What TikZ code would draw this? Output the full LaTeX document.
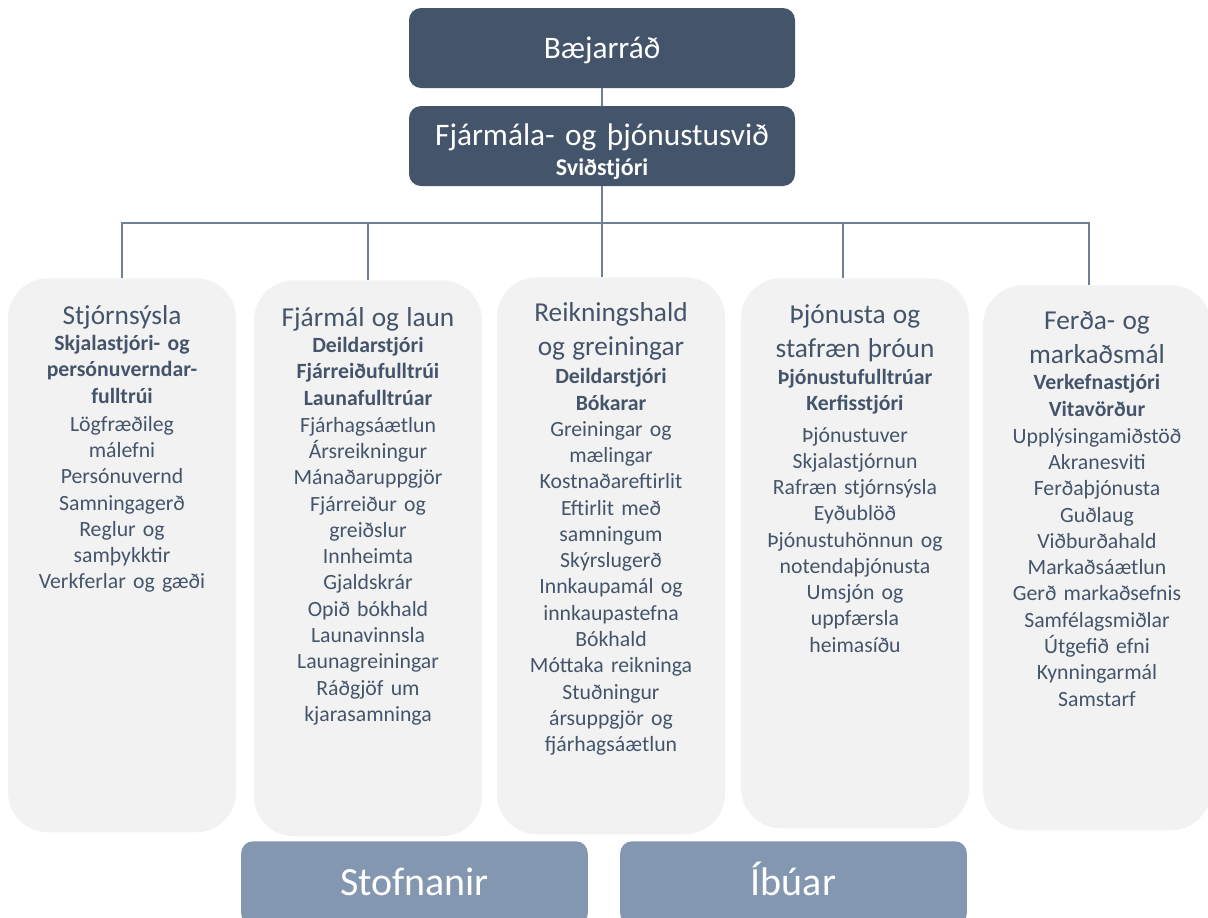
\documentclass[tikz,border=0pt]{standalone}
\usepackage{fontspec}
\setmainfont{Carlito}
\usepackage{tikz}
\usetikzlibrary{calc,positioning}
\definecolor{boxdark}{HTML}{44546A}
\definecolor{boxgrey}{HTML}{F2F2F2}
\definecolor{boxblue}{HTML}{8497B0}
\definecolor{linegrey}{HTML}{6F7F96}
\newcommand{\utitle}[1]{{\fontsize{20.5}{24}\selectfont #1}}
\newcommand{\urole}[1]{{\bfseries #1}}
\newcommand{\ustrut}{\rule{0pt}{20pt}}
\tikzset{
    topbox/.style={fill=boxdark, rounded corners=9pt, minimum width=289.5pt, minimum height=60pt,
        inner sep=0pt, text=white, align=center, text width=280pt},
    unitbox/.style={fill=boxgrey, rounded corners=30pt, minimum width=171pt, anchor=north, inner sep=0pt},
    unittext/.style={anchor=north, inner sep=0pt, text width=171pt, align=center, text=boxdark,
        font=\fontsize{16.3}{19.7}\selectfont},
    outbox/.style={fill=boxblue, rounded corners=9pt, minimum width=260pt, minimum height=63pt,
        anchor=north, inner sep=0pt, text=white, text height=22pt, text depth=4pt,
        font=\fontsize{30}{36}\selectfont},
    conn/.style={draw=linegrey, line width=0.8pt},
}
\begin{document}
\begin{tikzpicture}[x=0.75pt,y=-0.75pt]
    \useasboundingbox (0,0) rectangle (1208,918);
    % top
    \node[topbox, font=\fontsize{23.5}{28}\selectfont, text height=16pt, text depth=0pt] (bae) at (602,48) {Bæjarráð};
    \node[topbox, font=\fontsize{23.5}{22.5}\selectfont, text height=17pt, text depth=18.5pt] (fin) at (602,146)
        {Fjármála- og þjónustusvið\\{\bfseries\fontsize{18}{22.5}\selectfont Sviðstjóri}};
    % units
    \node[unitbox, minimum height=415.5pt] (stj) at (122,278) {};
    \node[unitbox, minimum height=417pt] (fjl) at (368,280) {};
    \node[unitbox, minimum height=417.75pt] (rek) at (611,277) {};
    \node[unitbox, minimum height=412.5pt] (thj) at (855,278) {};
    \node[unitbox, minimum height=408.75pt] (ferd) at (1097,285) {};
    \node[unittext] (stjt) at ([yshift=-14.5pt]stj.north) {\ustrut\utitle{Stjórnsýsla}\\
        \urole{Skjalastjóri- og}\\\urole{persónuverndar-}\\\urole{fulltrúi}\\[1.5pt]
        Lögfræðileg\\málefni\\Persónuvernd\\Samningagerð\\Reglur og\\samþykktir\\Verkferlar og gæði};
    \node[unittext] (fjlt) at ([yshift=-14.5pt]fjl.north) {\ustrut\utitle{Fjármál og laun}\\
        \urole{Deildarstjóri}\\\urole{Fjárreiðufulltrúi}\\\urole{Launafulltrúar}\\[0.75pt]
        Fjárhagsáætlun\\Ársreikningur\\Mánaðaruppgjör\\Fjárreiður og\\greiðslur\\Innheimta\\
        Gjaldskrár\\Opið bókhald\\Launavinnsla\\Launagreiningar\\Ráðgjöf um\\kjarasamninga};
    \node[unittext] (rekt) at ([yshift=-13pt]rek.north) {\ustrut\utitle{Reikningshald}\\[6pt]
        \utitle{og greiningar}\\[1.5pt]
        \urole{Deildarstjóri}\\\urole{Bókarar}\\
        Greiningar og\\mælingar\\Kostnaðareftirlit\\Eftirlit með\\samningum\\Skýrslugerð\\
        Innkaupamál og\\innkaupastefna\\Bókhald\\Móttaka reikninga\\Stuðningur\\
        ársuppgjör og\\fjárhagsáætlun};
    \node[unittext] (thjt) at ([yshift=-14pt]thj.north) {\ustrut\utitle{Þjónusta og}\\[6pt]
        \utitle{stafræn þróun}\\
        \urole{Þjónustufulltrúar}\\\urole{Kerfisstjóri}\\[4pt]
        Þjónustuver\\Skjalastjórnun\\Rafræn stjórnsýsla\\Eyðublöð\\Þjónustuhönnun og\\
        notendaþjónusta\\Umsjón og\\uppfærsla\\heimasíðu};
    \node[unittext] (ferdt) at ([yshift=-13pt]ferd.north) {\ustrut\utitle{Ferða- og}\\[6pt]
        \utitle{markaðsmál}\\
        \urole{Verkefnastjóri}\\\urole{Vitavörður}\\[0.75pt]
        Upplýsingamiðstöð\\Akranesviti\\Ferðaþjónusta\\Guðlaug\\Viðburðahald\\Markaðsáætlun\\
        Gerð markaðsefnis\\Samfélagsmiðlar\\Útgefið efni\\Kynningarmál\\Samstarf};
    % bottom
    \node[outbox] (stofn) at (414.5,841) {Stofnanir};
    \node[outbox] (ibua) at (793.5,841) {Íbúar};
    % connectors
    \coordinate (bar) at (602,223);
    \draw[conn] (bae.south) -- (fin.north);
    \draw[conn] (fin.south) -- (fin.south |- rek.north);
    \draw[conn] (stj.north) |- (bar) -| ([xshift=-6pt]ferd.north);
    \draw[conn] (fjl.north) -- (fjl.north |- bar);
    \draw[conn] ([xshift=-9pt]thj.north) -- ([xshift=-9pt]thj.north |- bar);
\end{tikzpicture}
\end{document}
